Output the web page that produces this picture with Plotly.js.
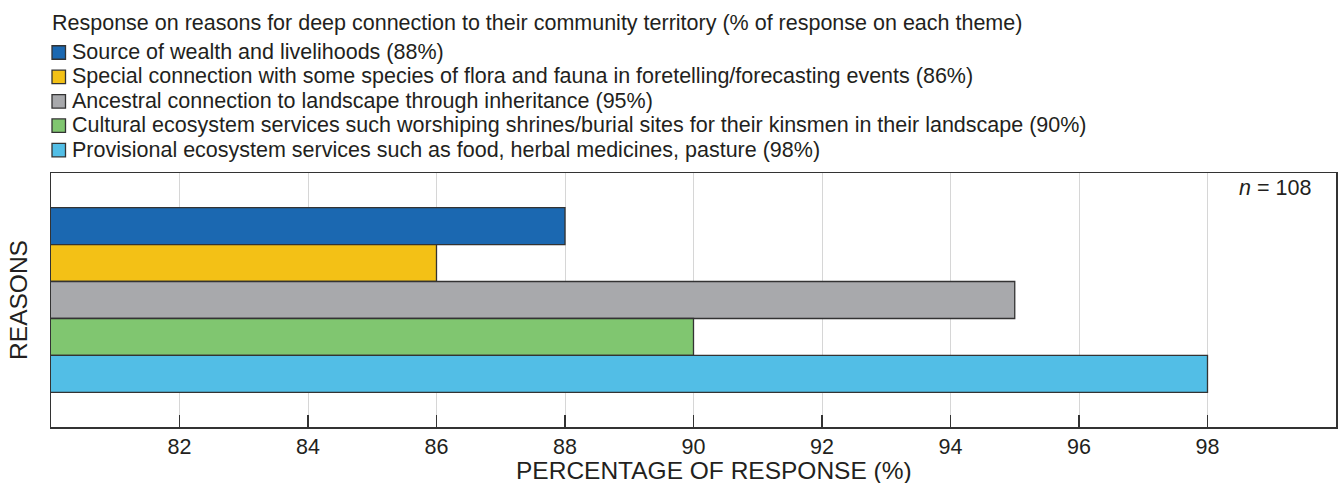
<!DOCTYPE html>
<html>
<head>
<meta charset="utf-8">
<script src="https://cdn.plot.ly/plotly-3.0.1.min.js"></script>
<style>html,body{margin:0;padding:0;background:#fff;}#chart{width:1339px;height:483px;}</style>
</head>
<body>
<div id="chart"></div>
<script>
// ---- data ----
const chartTitle = "Response on reasons for deep connection to their community territory (% of response on each theme)";
const reasons = [
  "Source of wealth and livelihoods",
  "Special connection with some species of flora and fauna in foretelling/forecasting events",
  "Ancestral connection to landscape through inheritance",
  "Cultural ecosystem services such worshiping shrines/burial sites for their kinsmen in their landscape",
  "Provisional ecosystem services such as food, herbal medicines, pasture"
];
const percentages = [88, 86, 95, 90, 98];
const categoryLabel = ["Reasons"];
const tickValues = [82, 84, 86, 88, 90, 92, 94, 96, 98];
const xAxisTitle = "PERCENTAGE OF RESPONSE (%)";
const yAxisTitle = "REASONS";
const sampleNote = "<i>n</i> = 108";
const colors = ["#1b68b1", "#f3c116", "#a8a9ac", "#80c670", "#52bee6"];

// ---- geometry helpers (pixel -> paper) ----
const W = 1339, H = 483;
const M = {l: 51, r: 3, t: 173, b: 56};
const PW = W - M.l - M.r, PH = H - M.t - M.b;
const px = x => (x - M.l) / PW;
const py = y => (H - M.b - y) / PH;

const FONT = "Liberation Sans, Arial, Helvetica, sans-serif";
const TXT = "#231f20";
const FS = 21.5;
const FT = 24.5;

const traces = reasons.map((r, i) => ({
  type: "bar",
  orientation: "h",
  name: r + " (" + percentages[i] + "%)",
  y: categoryLabel,
  x: [percentages[i]],
  marker: {color: colors[i], line: {color: "#333333", width: 1.3}},
  hoverinfo: "name+x"
}));

const annotations = [];
const shapes = [];
annotations.push({
  xref: "paper", yref: "paper", x: px(50), y: py(23), xanchor: "left", yanchor: "middle",
  text: chartTitle, showarrow: false, font: {family: FONT, size: FS, color: TXT}
});
const rowY = [52.5, 76.9, 101.3, 125.7, 150.1];
reasons.forEach((r, i) => {
  shapes.push({
    type: "rect", xref: "paper", yref: "paper", layer: "above",
    x0: px(52), x1: px(65.5), y0: py(rowY[i] + 6.75), y1: py(rowY[i] - 6.75),
    fillcolor: colors[i], line: {color: "#333333", width: 1.3}
  });
  annotations.push({
    xref: "paper", yref: "paper", x: px(69.5), y: py(rowY[i] - 0.5), xanchor: "left", yanchor: "middle",
    text: r + " (" + percentages[i] + "%)", showarrow: false,
    font: {family: FONT, size: FS, color: TXT}
  });
});
annotations.push({
  xref: "paper", yref: "paper", x: px(1313), y: py(188), xanchor: "right", yanchor: "middle",
  text: sampleNote, showarrow: false, font: {family: FONT, size: FS, color: TXT}
});
// x-axis title (placed as in the reference, slightly right of the plot centre)
annotations.push({
  xref: "paper", yref: "paper", x: px(714), y: py(470), xanchor: "center", yanchor: "middle",
  text: xAxisTitle, showarrow: false, font: {family: FONT, size: FT, color: TXT}
});

const layout = {
  width: W, height: H,
  margin: M,
  paper_bgcolor: "#ffffff", plot_bgcolor: "#ffffff",
  showlegend: false,
  barmode: "group",
  bargap: 0.272,
  bargroupgap: 0,
  font: {family: FONT, size: FS, color: TXT},
  xaxis: {
    range: [80, 100],
    tickmode: "array", tickvals: tickValues,
    ticks: "inside", ticklen: 12, tickwidth: 1.5, tickcolor: "#333333",
    showgrid: true, gridcolor: "#d6d6d6", gridwidth: 1,
    showline: true, linecolor: "#333333", linewidth: 1.5, mirror: true,
    zeroline: false,
    tickfont: {family: FONT, size: FS, color: TXT},
    automargin: false
  },
  yaxis: {
    type: "category",
    autorange: "reversed",
    showticklabels: false, ticks: "",
    showgrid: false, zeroline: false,
    showline: true, linecolor: "#333333", linewidth: 1.5, mirror: true,
    title: {text: yAxisTitle, font: {family: FONT, size: FT, color: TXT}, standoff: 15},
    automargin: false
  },
  annotations: annotations,
  shapes: shapes
};

Plotly.newPlot("chart", traces, layout, {displayModeBar: false, staticPlot: true});
</script>
</body>
</html>
